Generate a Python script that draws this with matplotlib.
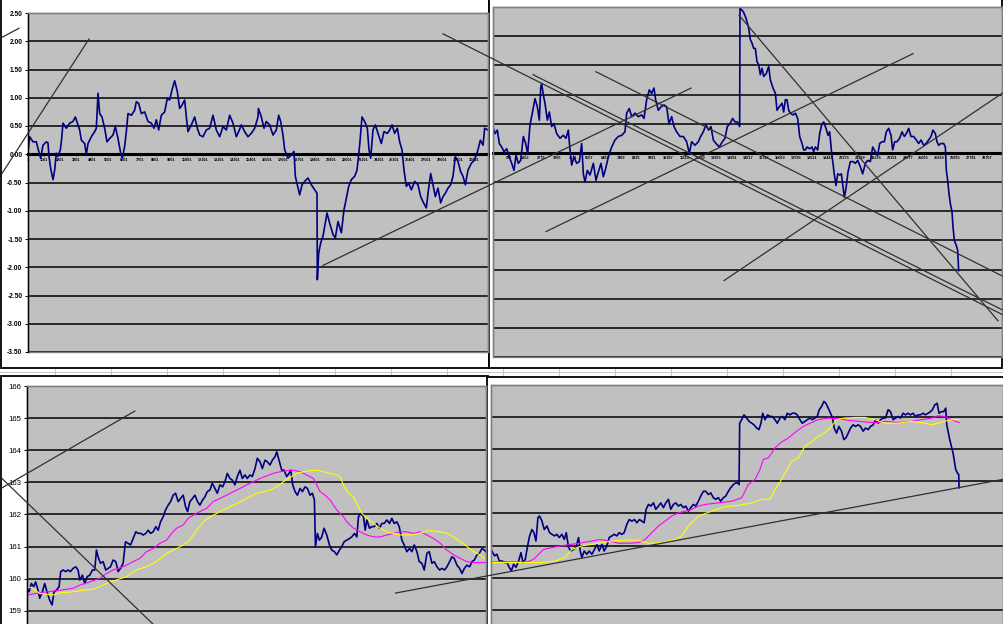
import matplotlib
matplotlib.use('Agg')
import matplotlib.pyplot as plt
from matplotlib.patches import Rectangle

plt.rcParams['font.family'] = ['Liberation Sans', 'DejaVu Sans']

# ---------------- data ----------------
# top left: deviation series (row index, value)
tl_x = [0, 115, 345, 575, 690, 874, 1035, 1265, 1380, 1449,
        1564, 1725, 1840, 1955, 2070, 2231, 2300, 2415, 2645, 2875,
        3105, 3266, 3450, 3565, 3680, 3910, 4025, 4140, 4370, 4600,
        4715, 4830, 4945, 5106, 5290, 5451, 5635, 5865, 6026, 6210,
        6394, 6509, 6670, 6785, 6900, 7130, 7360, 7475, 7636, 7820,
        8050, 8280, 8510, 8694, 8855, 9016, 9200, 9430, 9614, 9775,
        9936, 10120, 10304, 10465, 10626, 10810, 10925, 11040, 11270, 11500,
        11684, 11845, 12075, 12305, 12535, 12765, 12995, 13225, 13455, 13685,
        13915, 14145, 14375, 14536, 14720, 14950, 15180, 15410, 15640, 15870,
        15900, 16100, 16284, 16445, 16675, 16905, 17135, 17296, 17434, 17595,
        17710, 17940, 18170, 18354, 18446, 18584, 18745, 18906, 19090, 19320,
        19550, 19780, 19941, 19964, 20056, 20194, 20355, 20470, 20631, 20815,
        21045, 21206, 21390, 21620, 21804, 21965, 22126, 22310, 22540, 22701,
        22885, 23046, 23230, 23414, 23529, 23644, 23805, 23966, 24150, 24380,
        24564, 24794, 24955, 25116, 25300, 25484, 25645, 25806, 25944, 26105,
        26266, 26450, 26680, 26910, 27094, 27255, 27485, 27600, 27784, 27945,
        28106, 28290, 28474, 28635, 28796, 28980, 29164, 29325, 29486, 29670,
        29854, 30015, 30176, 30360, 30590, 30820, 31050, 31211, 31395, 31510,
        31740]
tl_y = [0.05, 0.31, 0.22, 0.22, 0.10, -0.07, 0.16, 0.22, 0.20, -0.04,
        -0.25, -0.45, -0.28, 0.02, -0.04, 0.08, 0.22, 0.55, 0.46, 0.55,
        0.58, 0.66, 0.52, 0.43, 0.25, 0.19, -0.01, 0.19, 0.31, 0.40,
        0.46, 1.08, 0.72, 0.66, 0.46, 0.22, 0.28, 0.34, 0.49, 0.28,
        0.02, -0.07, 0.14, 0.40, 0.72, 0.69, 0.78, 0.93, 0.90, 0.72,
        0.75, 0.58, 0.55, 0.46, 0.61, 0.43, 0.69, 0.75, 0.99, 0.96,
        1.14, 1.30, 1.11, 0.81, 0.87, 0.96, 0.66, 0.40, 0.52, 0.66,
        0.46, 0.34, 0.31, 0.43, 0.46, 0.69, 0.43, 0.31, 0.49, 0.43,
        0.69, 0.55, 0.31, 0.40, 0.52, 0.40, 0.31, 0.37, 0.46, 0.66,
        0.81, 0.66, 0.46, 0.58, 0.52, 0.34, 0.43, 0.69, 0.58, 0.34,
        0.08, -0.07, -0.01, 0.05, -0.39, -0.54, -0.72, -0.54, -0.48, -0.42,
        -0.54, -0.63, -0.69, -2.22, -1.75, -1.57, -1.45, -1.28, -1.04, -1.22,
        -1.42, -1.48, -1.19, -1.39, -0.98, -0.78, -0.57, -0.45, -0.39, -0.28,
        0.16, 0.66, 0.58, 0.46, 0.08, -0.07, 0.43, 0.52, 0.37, 0.19,
        0.40, 0.37, 0.43, 0.52, 0.37, 0.46, 0.22, 0.08, -0.28, -0.57,
        -0.51, -0.63, -0.48, -0.54, -0.75, -0.84, -0.95, -0.69, -0.34, -0.54,
        -0.75, -0.60, -0.86, -0.75, -0.69, -0.60, -0.54, -0.39, -0.04, -0.13,
        -0.31, -0.39, -0.54, -0.28, -0.16, -0.10, 0.08, 0.25, 0.16, 0.46,
        0.43]

# top right: deviation series
tr_x = [20, 116, 252, 368, 503, 639, 794, 948, 1084, 1219,
        1335, 1471, 1606, 1761, 1896, 2013, 2148, 2283, 2438, 2574,
        2690, 2767, 2825, 2922, 3019, 3154, 3270, 3406, 3541, 3696,
        3890, 4083, 4238, 4373, 4470, 4567, 4702, 4857, 5012, 5147,
        5244, 5341, 5476, 5631, 5825, 5979, 6115, 6270, 6405, 6540,
        6695, 6889, 7082, 7276, 7469, 7663, 7760, 7914, 8050, 8243,
        8437, 8630, 8766, 8921, 9075, 9211, 9346, 9443, 9598, 9753,
        9927, 10082, 10217, 10372, 10507, 10662, 10856, 11049, 11243, 11397,
        11533, 11726, 11920, 12055, 12210, 12365, 12520, 12655, 12791, 12945,
        13139, 13313, 13468, 13603, 13758, 13913, 14048, 14184, 14319, 14340,
        14532, 14687,
        14844, 14941, 15037, 15134, 15231, 15328, 15424, 15521, 15618, 15715,
        15869, 16005, 16102, 16256, 16392, 16489, 16624, 16779, 16876, 16972,
        17069, 17166, 17263, 17417, 17553, 17688, 17804, 17940, 18037, 18133,
        18230, 18385, 18520, 18617, 18714, 18849, 18965, 19081, 19198, 19333,
        19449, 19546, 19662, 19739, 19817, 19914, 20010, 20126, 20223, 20320,
        20397, 20494, 20610, 20746, 20900, 21036, 21171, 21326, 21461, 21616,
        21752, 21906, 22042, 22197, 22332, 22448, 22584, 22719, 22835, 22971,
        23106, 23203, 23319, 23455, 23609, 23745, 23880, 23996, 24132, 24267,
        24422, 24577, 24712, 24848, 25003, 25138, 25293, 25428, 25544, 25680,
        25777, 25873, 26009, 26164, 26260, 26318, 26396, 26473, 26551, 26647,
        26705, 26783, 26899, 26976, 27034]
tr_y = [0.42, 0.33, 0.39, 0.16, 0.10, 0.02, 0.07, -0.07, -0.18, -0.30,
        -0.04, -0.18, -0.13, 0.28, 0.16, -0.01, 0.48, 0.68, 0.93, 0.79,
        0.56, 1.11, 1.19, 0.99, 0.85, 0.56, 0.70, 0.45, 0.50, 0.33,
        0.25, 0.30, 0.25, 0.39, 0.05, -0.21, -0.07, -0.18, -0.15, 0.16,
        -0.36, -0.50, -0.30, -0.38, -0.18, -0.47, -0.33, -0.18, -0.41, -0.27,
        -0.07, 0.10, 0.22, 0.28, 0.30, 0.36, 0.68, 0.76, 0.62, 0.68,
        0.62, 0.65, 0.59, 0.91, 1.08, 1.02, 1.11, 0.91, 0.73, 0.79,
        0.82, 0.79, 0.50, 0.62, 0.45, 0.36, 0.28, 0.28, 0.19, -0.01,
        0.19, 0.13, 0.19, 0.28, 0.36, 0.48, 0.39, 0.45, 0.22, 0.16,
        0.10, 0.19, 0.25, 0.45, 0.50, 0.59, 0.53, 0.53, 0.45, 2.48,
        2.42, 2.31,
        2.14, 1.94, 1.88, 1.79, 1.79, 1.56, 1.51, 1.34, 1.45, 1.31,
        1.36, 1.48, 1.25, 1.11, 1.02, 0.73, 0.79, 0.85, 0.70, 0.91,
        0.91, 0.73, 0.68, 0.65, 0.68, 0.59, 0.28, 0.16, 0.05, 0.05,
        0.10, 0.07, 0.10, 0.02, 0.10, 0.05, 0.33, 0.48, 0.53, 0.42,
        0.30, 0.36, -0.01, -0.18, -0.38, -0.56, -0.36, -0.38, -0.36, -0.58,
        -0.76, -0.61, -0.33, -0.15, -0.15, -0.18, -0.13, -0.24, -0.36, -0.18,
        -0.13, -0.15, 0.10, 0.02, -0.04, 0.16, 0.19, 0.19, 0.36, 0.42,
        0.30, 0.05, 0.19, 0.19, 0.25, 0.36, 0.28, 0.33, 0.42, 0.28,
        0.28, 0.22, 0.16, 0.22, 0.13, 0.16, 0.22, 0.28, 0.39, 0.33,
        0.19, 0.13, 0.16, 0.16, 0.10, -0.30, -0.47, -0.70, -0.87, -1.01,
        -1.27, -1.50, -1.59, -1.67, -2.02]

# bottom left: price + two moving averages
bl_x = [82, 88, 95, 102, 108, 115, 120, 128, 135, 142,
        150, 157, 163, 170, 178, 183, 190, 198, 205, 212,
        220, 228, 235, 240, 248, 255, 262, 270, 278, 285,
        290, 295, 302, 310, 318, 325, 332, 340, 348, 355,
        362, 370, 377, 385, 392, 400, 408, 415, 423, 430,
        438, 445, 452, 460, 468, 475, 482, 490, 497, 505,
        512, 520, 527, 535, 542, 550, 557, 563, 570, 578,
        585, 593, 600, 608, 615, 622, 630, 637, 645, 652,
        660, 668, 675, 682, 690, 697, 705, 712, 720, 727,
        735, 742, 750, 757, 765, 772, 780, 787, 795, 802,
        810, 817, 825, 830, 837, 845, 852, 860, 867, 872,
        878, 885, 892, 900, 907, 915, 922, 930, 937, 943,
        946, 952, 958, 965, 972, 980, 988, 995, 1003, 1010,
        1018, 1025, 1032, 1040, 1048, 1055, 1063, 1070, 1075, 1082,
        1090, 1095, 1100, 1108, 1115, 1122, 1130, 1138, 1145, 1152,
        1160, 1168, 1175, 1182, 1190, 1197, 1205, 1212, 1220, 1228,
        1235, 1242, 1250, 1257, 1265, 1272, 1280, 1287, 1295, 1302,
        1310, 1318, 1325, 1333, 1340, 1348, 1355, 1362, 1370, 1378,
        1385, 1392, 1400, 1408, 1415, 1422, 1430, 1437, 1445, 1452,
        1457]
bl_price = [159.70, 159.59, 159.85, 159.75, 159.90, 159.64, 159.39, 159.59, 159.85, 159.59,
            159.33, 159.18, 159.59, 159.64, 159.75, 160.22, 160.27, 160.22, 160.27, 160.22,
            160.32, 160.37, 160.27, 159.96, 160.11, 159.85, 160.06, 160.11, 160.27, 160.27,
            160.89, 160.68, 160.48, 160.53, 160.27, 160.32, 160.37, 160.58, 160.53, 160.22,
            160.32, 160.48, 161.15, 161.10, 161.05, 161.25, 161.46, 161.41, 161.41, 161.36,
            161.41, 161.51, 161.41, 161.46, 161.62, 161.51, 161.77, 161.93, 162.14, 162.29,
            162.40, 162.60, 162.66, 162.40, 162.50, 162.60, 162.24, 162.09, 162.40, 162.50,
            162.60, 162.40, 162.29, 162.45, 162.55, 162.71, 162.76, 162.97, 162.81, 162.66,
            162.92, 162.86, 163.02, 163.28, 163.12, 163.07, 162.92, 163.18, 163.38, 163.12,
            163.23, 163.12, 163.23, 163.18, 163.43, 163.75, 163.64, 163.43, 163.69, 163.64,
            163.54, 163.69, 163.80, 163.95, 163.69, 163.38, 163.38, 163.18, 163.28, 163.38,
            162.92, 162.71, 162.60, 162.81, 162.71, 162.86, 162.81, 162.60, 162.66, 162.45,
            161.00, 161.41, 161.20, 161.30, 161.57, 161.36, 161.05, 160.89, 160.84, 160.74,
            160.89, 161.00, 161.15, 161.20, 161.25, 161.30, 161.41, 161.30, 161.93, 162.03,
            161.93, 161.51, 161.83, 161.57, 161.62, 161.62, 161.72, 161.57, 161.72, 161.72,
            161.83, 161.72, 161.88, 161.72, 161.77, 161.62, 161.20, 161.05, 160.84, 160.94,
            160.84, 161.05, 160.84, 160.53, 160.48, 160.27, 160.79, 160.84, 160.48, 160.53,
            160.37, 160.27, 160.32, 160.27, 160.37, 160.53, 160.68, 160.63, 160.42, 160.32,
            160.16, 160.32, 160.42, 160.37, 160.53, 160.58, 160.74, 160.79, 160.94, 160.89,
            160.84]
bl_fast_x = [82, 120, 180, 220, 240, 270, 300, 320, 340, 370,
             400, 420, 440, 460, 480, 500, 515, 530, 550, 565,
             580, 600, 620, 640, 660, 680, 700, 720, 740, 760,
             780, 800, 820, 840, 860, 880, 900, 920, 940, 950,
             960, 975, 990, 1000, 1010, 1020, 1030, 1040, 1050, 1060,
             1080, 1100, 1120, 1140, 1160, 1180, 1200, 1220, 1240, 1260,
             1280, 1300, 1320, 1340, 1360, 1380, 1400, 1420, 1457]
bl_fast = [159.49, 159.56, 159.64, 159.70, 159.80, 159.90, 160.01, 160.16, 160.27, 160.37,
           160.53, 160.63, 160.84, 160.94, 161.10, 161.20, 161.41, 161.57, 161.67, 161.88,
           161.98, 162.09, 162.19, 162.40, 162.50, 162.60, 162.71, 162.81, 162.92, 163.02,
           163.12, 163.20, 163.28, 163.33, 163.36, 163.38, 163.33, 163.23, 163.12, 162.92,
           162.71, 162.60, 162.45, 162.29, 162.14, 162.03, 161.93, 161.77, 161.67, 161.57,
           161.46, 161.36, 161.30, 161.30, 161.36, 161.41, 161.46, 161.46, 161.41, 161.46,
           161.36, 161.25, 161.10, 160.89, 160.74, 160.63, 160.53, 160.50, 160.50]
bl_slow_x = [82, 100, 120, 160, 180, 220, 250, 280, 300, 320,
             350, 380, 410, 440, 470, 500, 530, 550, 570, 590,
             610, 630, 650, 670, 690, 710, 730, 750, 770, 790,
             810, 830, 850, 870, 890, 910, 930, 950, 970, 990,
             1010, 1020, 1030, 1045, 1060, 1075, 1085, 1100, 1120, 1140,
             1160, 1180, 1200, 1230, 1260, 1280, 1300, 1320, 1340, 1360,
             1380, 1400, 1420, 1440, 1452]
bl_slow = [159.75, 159.70, 159.54, 159.49, 159.56, 159.59, 159.64, 159.67, 159.75, 159.85,
           159.96, 160.06, 160.27, 160.37, 160.53, 160.79, 160.94, 161.05, 161.20, 161.51,
           161.77, 161.93, 162.03, 162.14, 162.24, 162.34, 162.45, 162.55, 162.66, 162.71,
           162.76, 162.86, 163.02, 163.15, 163.28, 163.33, 163.36, 163.38, 163.33, 163.28,
           163.23, 163.18, 162.92, 162.66, 162.55, 162.24, 162.03, 161.88, 161.72, 161.57,
           161.46, 161.41, 161.36, 161.36, 161.41, 161.49, 161.49, 161.46, 161.41, 161.30,
           161.15, 161.00, 160.84, 160.74, 160.63]

# bottom right: price + two moving averages
br_x = [17, 22, 28, 35, 42, 50, 58, 65, 72, 78,
        85, 92, 100, 107, 113, 120, 127, 133, 140, 146,
        152, 158, 163, 170, 177, 185, 193, 200, 208, 215,
        222, 230, 237, 243, 250, 257, 265, 272, 280, 285,
        290, 297, 305, 312, 320, 328, 335, 342, 350, 357,
        365, 372, 380, 387, 395, 402, 410, 417, 425, 432,
        440, 448, 455, 463, 470, 477, 483, 490, 497, 505,
        512, 520, 527, 535, 542, 550, 557, 565, 572, 580,
        587, 595, 602, 610, 617, 625, 632, 640, 647, 655,
        662, 670, 677, 685, 692, 700, 707, 715, 722, 730,
        737, 745, 752, 758, 762, 764, 770, 777, 785, 792,
        800, 807, 815, 822, 828, 833, 840, 848, 855, 862,
        870, 877, 885, 892, 900, 907, 915, 922, 930, 937,
        945, 952, 960, 967, 975, 982, 990, 997, 1003, 1010,
        1017, 1023, 1030, 1037, 1043, 1048, 1055, 1062, 1070, 1077,
        1083, 1090, 1097, 1105, 1112, 1120, 1127, 1135, 1142, 1150,
        1157, 1165, 1172, 1180, 1187, 1195, 1202, 1210, 1217, 1225,
        1232, 1240, 1247, 1255, 1262, 1270, 1277, 1285, 1292, 1300,
        1307, 1315, 1322, 1330, 1337, 1343, 1350, 1357, 1363, 1370,
        1377, 1383, 1386, 1390, 1395, 1400, 1405, 1410, 1413, 1418,
        1422, 1423]
br_price = [160.88, 160.78, 160.68, 160.73, 160.52, 160.52, 160.47, 160.47, 160.32, 160.21,
            160.42, 160.32, 160.52, 160.78, 160.47, 160.57, 160.99, 161.30, 161.50, 161.40,
            161.14, 161.87, 161.92, 161.76, 161.50, 161.61, 161.40, 161.35, 161.30, 161.35,
            161.25, 161.35, 161.19, 161.40, 160.94, 160.83, 160.88, 160.94, 161.25, 160.83,
            160.63, 160.83, 160.73, 160.83, 160.73, 160.88, 161.04, 160.83, 161.04, 160.83,
            160.99, 161.25, 161.30, 161.35, 161.30, 161.40, 161.35, 161.40, 161.66, 161.81,
            161.76, 161.81, 161.71, 161.81, 161.76, 161.71, 162.13, 162.28, 162.23, 162.33,
            162.13, 162.23, 162.33, 162.18, 162.33, 162.44, 162.13, 162.28, 162.33, 162.23,
            162.28, 162.18, 162.23, 162.07, 162.18, 162.28, 162.23, 162.38, 162.54, 162.69,
            162.69, 162.59, 162.64, 162.49, 162.44, 162.49, 162.38, 162.49, 162.54, 162.69,
            162.80, 162.90, 162.95, 162.95, 162.90, 164.81, 164.92, 165.07, 164.97, 164.87,
            164.81, 164.76, 164.66, 164.61, 164.81, 165.12, 164.92, 165.07, 165.02, 165.02,
            164.92, 164.81, 164.97, 165.02, 164.92, 165.12, 165.07, 165.12, 165.12, 165.07,
            164.92, 164.81, 164.87, 164.92, 164.97, 164.92, 164.97, 165.02, 165.23, 165.33,
            165.49, 165.43, 165.28, 165.12, 164.97, 164.66, 164.50, 164.71, 164.56, 164.30,
            164.35, 164.50, 164.66, 164.76, 164.71, 164.76, 164.71, 164.56, 164.66, 164.61,
            164.71, 164.76, 164.92, 164.81, 164.92, 164.97, 164.97, 165.23, 165.17, 164.92,
            164.97, 165.02, 164.97, 165.12, 165.07, 165.12, 165.07, 165.12, 165.02, 165.07,
            165.07, 165.12, 165.07, 165.12, 165.17, 165.23, 165.38, 165.43, 165.12, 165.17,
            165.17, 165.28, 164.76, 164.56, 164.30, 164.09, 163.88, 163.57, 163.37, 163.26,
            163.21, 162.80]
br_fast_x = [17, 60, 125, 145, 160, 175, 215, 245, 280, 320,
             345, 375, 400, 430, 460, 480, 500, 520, 540, 560,
             580, 600, 620, 640, 660, 700, 740, 770, 790, 810,
             825, 835, 850, 870, 885, 910, 935, 955, 975, 1000,
             1030, 1060, 1090, 1120, 1150, 1180, 1200, 1240, 1280, 1310,
             1340, 1360, 1380, 1400, 1423]
br_fast = [160.49, 160.49, 160.49, 160.57, 160.73, 160.88, 160.97, 161.02, 161.07, 161.14,
           161.19, 161.14, 161.07, 161.07, 161.09, 161.19, 161.40, 161.61, 161.76, 161.92,
           162.02, 162.07, 162.13, 162.23, 162.28, 162.33, 162.38, 162.49, 162.90, 163.06,
           163.37, 163.68, 163.73, 164.04, 164.19, 164.35, 164.56, 164.71, 164.81, 164.92,
           164.97, 164.95, 164.90, 164.87, 164.84, 164.83, 164.87, 164.83, 164.87, 164.92,
           164.97, 165.04, 165.02, 164.92, 164.83]
br_slow_x = [17, 100, 170, 210, 240, 260, 290, 340, 380, 420,
             460, 490, 530, 570, 590, 610, 640, 680, 720, 760,
             800, 830, 855, 870, 885, 900, 920, 940, 960, 980,
             1000, 1020, 1040, 1055, 1080, 1110, 1140, 1170, 1200, 1240,
             1280, 1320, 1340, 1360, 1380, 1400, 1423]
br_slow = [160.47, 160.47, 160.47, 160.52, 160.63, 160.88, 160.99, 161.07, 161.14, 161.17,
           161.17, 161.07, 161.09, 161.19, 161.30, 161.61, 161.92, 162.07, 162.21, 162.25,
           162.33, 162.44, 162.44, 162.75, 162.97, 163.26, 163.62, 163.73, 164.09, 164.24,
           164.40, 164.52, 164.71, 164.92, 164.97, 164.99, 164.99, 164.92, 164.81, 164.81,
           164.87, 164.81, 164.76, 164.81, 164.87, 164.92, 164.92]

# hand drawn trend lines: (x0, x1, y0, y1) in each chart's units
tl_trend = [(-1794, 4209, -0.34, 2.04), (-1794, -621, 2.07, 2.23)]
tr_trend = [(-2903, 29553, 2.04, -2.77), (2322, 29553, 1.34, -2.69),
            (5980, 29553, 1.39, -2.11), (-9870, 11496, -1.93, 1.11),
            (3077, 24385, -1.35, 1.70), (13412, 29611, -2.19, 1.03),
            (14283, 29320, 2.36, -2.88)]
bl_trend = [(6, 405, 162.82, 165.22), (6, 459, 163.13, 158.59)]
br_trend = [(-270, 1554, 159.52, 163.06)]

dev_ticks = [-3.5, -3.0, -2.5, -2.0, -1.5, -1.0, -0.5, 0.0, 0.5, 1.0, 1.5, 2.0, 2.5]
price_ticks = [159, 160, 161, 162, 163, 164, 165, 166]

# ---------------- layout ----------------
W, H = 1004, 624
fig = plt.figure(figsize=(W / 100, H / 100), dpi=100)


def box(x0, y0, x1, y1):
    return fig.add_axes([x0 / W, 1 - y1 / H, (x1 - x0) / W, (y1 - y0) / H])


bg = box(0, 0, W, H)
bg.set_xlim(0, W)
bg.set_ylim(H, 0)
bg.axis('off')
# worksheet cells peeking between the charts
for cx in range(55, W, 56):
    bg.plot([cx, cx], [362, 380], color='#c8c8c8', lw=0.8, zorder=0.5)
bg.plot([0, W], [371.5, 371.5], color='#c8c8c8', lw=0.8, zorder=0.5)
for (x0, y0, x1, y1) in [(1, -5, 489, 368), (489.5, -5, 1002, 368),
                         (1, 376, 488, 640), (487, 377, 1020, 640)]:
    bg.add_patch(Rectangle((x0, y0), x1 - x0, y1 - y0, facecolor='white',
                           edgecolor='black', lw=1.3, zorder=1))


def style(ax, ticks, ylim):
    ax.set_facecolor('#c0c0c0')
    ax.set_ylim(*ylim)
    ax.set_yticks(ticks)
    ax.yaxis.grid(True, color='black', lw=1.1)
    ax.set_axisbelow(True)
    for s in ax.spines.values():
        s.set_color('#808080')
        s.set_linewidth(1.0)
    ax.add_patch(Rectangle((0, 0), 1, 1, transform=ax.transAxes, fill=False,
                           edgecolor='#808080', lw=1.0, clip_on=False, zorder=0.6))


def trend(ax, lines):
    for x0, x1, y0, y1 in lines:
        ax.plot([x0, x1], [y0, y1], color='#303030', lw=0.9, clip_on=False, zorder=3)


def zero_axis(ax, step, n):
    ax.spines['bottom'].set_position(('data', 0))
    ax.spines['bottom'].set_color('black')
    ax.spines['bottom'].set_linewidth(2.2)
    ax.spines['bottom'].set_zorder(1.5)
    pos = [k * step for k in range(n)]
    ax.set_xticks(pos, [str(p + 1) for p in pos])
    ax.tick_params(axis='x', labelsize=2.8, length=1.5, width=0.6, pad=1.0)
    for t in ax.get_xticklabels():
        t.set_fontweight('bold')


# top left
ax1 = box(28, 13, 488, 352)
style(ax1, dev_ticks, (-3.5, 2.5))
ax1.set_xlim(0, 31740)
zero_axis(ax1, 1100, 29)
ax1.spines['left'].set_color('black')
ax1.set_yticklabels([f'{v:.2f}' for v in dev_ticks], fontsize=4.8, fontweight='bold')
ax1.tick_params(axis='y', length=2.5, width=0.7, pad=1.5)
ax1.plot(tl_x, tl_y, color='#000080', lw=1.2)
trend(ax1, tl_trend)

# top right
ax2 = box(493, 7, 1002, 357)
style(ax2, dev_ticks, (-3.5, 2.5))
ax2.set_xlim(0, 29550)
zero_axis(ax2, 926, 32)
ax2.tick_params(axis='y', length=0, labelleft=False)
ax2.plot(tr_x, tr_y, color='#000080', lw=1.2)
trend(ax2, tr_trend)

# bottom left
ax3 = box(27, 386, 486, 675)
style(ax3, price_ticks, (157, 166))
ax3.set_xlim(82, 1457)
ax3.set_xticks([])
ax3.spines['left'].set_color('black')
ax3.set_yticklabels([str(v) for v in price_ticks], fontsize=5.6)
ax3.tick_params(axis='y', length=2.5, width=0.7, pad=1.5)
ax3.plot(bl_x, bl_price, color='#000080', lw=1.2)
ax3.plot(bl_fast_x, bl_fast, color='#ff00ff', lw=0.8)
ax3.plot(bl_slow_x, bl_slow, color='#ffff00', lw=0.8)
trend(ax3, bl_trend)

# bottom right
ax4 = box(491, 385, 1003, 674)
style(ax4, price_ticks, (157, 166))
ax4.set_xlim(17, 1555)
ax4.set_xticks([])
ax4.tick_params(axis='y', length=0, labelleft=False)
ax4.plot(br_x, br_price, color='#000080', lw=1.2)
ax4.plot(br_fast_x, br_fast, color='#ff00ff', lw=0.8)
ax4.plot(br_slow_x, br_slow, color='#ffff00', lw=0.8)
trend(ax4, br_trend)

fig.savefig('out.png', dpi=100)
